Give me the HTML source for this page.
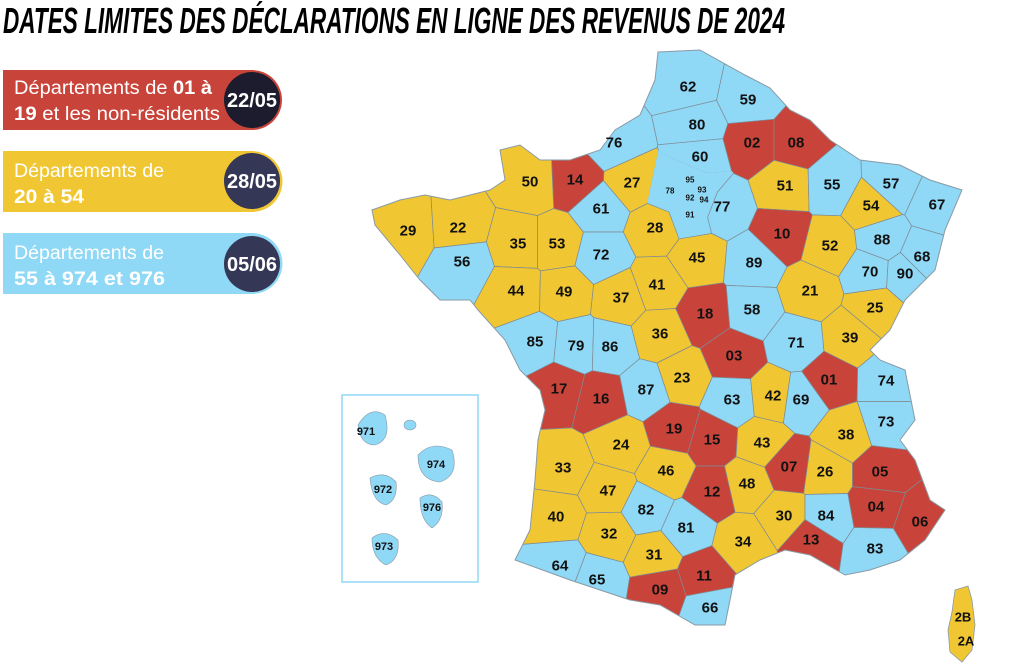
<!DOCTYPE html>
<html><head><meta charset="utf-8"><style>
html,body{margin:0;padding:0;background:#fff;width:1024px;height:666px;overflow:hidden}
svg{display:block}
.t{font-family:"Liberation Sans Narrow","Liberation Sans",sans-serif;font-weight:bold;font-size:15px;fill:#111;text-anchor:middle;dominant-baseline:central}
.p{font-family:"Liberation Sans",sans-serif;font-size:19px;fill:#fff}
.d{font-family:"Liberation Sans Narrow","Liberation Sans",sans-serif;font-weight:bold;font-size:20px;fill:#fff;text-anchor:middle;dominant-baseline:central}
</style></head><body>
<svg width="1024" height="666" viewBox="0 0 1024 666" xmlns="http://www.w3.org/2000/svg">
<text x="3" y="33" textLength="782" lengthAdjust="spacingAndGlyphs" style="font-family:'Liberation Sans Narrow','Liberation Sans',sans-serif;font-weight:bold;font-style:italic;font-size:36px;fill:#000">DATES LIMITES DES DÉCLARATIONS EN LIGNE DES REVENUS DE 2024</text>

<path d="M3 70 H252 A30 30 0 0 1 252 130 H3 Z" fill="#c8443a"/>
<circle cx="252" cy="100" r="28" fill="#1c1c2e"/>
<text class="p" x="14" y="94" textLength="198" lengthAdjust="spacingAndGlyphs">Départements de <tspan font-weight="bold">01 à</tspan></text>
<text class="p" x="14" y="120" textLength="206" lengthAdjust="spacingAndGlyphs"><tspan font-weight="bold">19</tspan> et les non-résidents</text>
<text class="d" x="252" y="101">22/05</text>

<path d="M3 151 H252 A30.5 30.5 0 0 1 252 212 H3 Z" fill="#f0c732"/>
<circle cx="252" cy="181" r="28" fill="#353756"/>
<text class="p" x="14" y="177" textLength="150" lengthAdjust="spacingAndGlyphs">Départements de</text>
<text class="p" x="14" y="203" font-weight="bold" textLength="70" lengthAdjust="spacingAndGlyphs">20 à 54</text>
<text class="d" x="252" y="182">28/05</text>

<path d="M3 233 H252 A30.5 30.5 0 0 1 252 294 H3 Z" fill="#8fd8f6"/>
<circle cx="252" cy="264" r="28" fill="#353756"/>
<text class="p" x="14" y="259" textLength="150" lengthAdjust="spacingAndGlyphs">Départements de</text>
<text class="p" x="14" y="285" font-weight="bold" textLength="151" lengthAdjust="spacingAndGlyphs">55 à 974 et 976</text>
<text class="d" x="252" y="265">05/06</text>

<defs><clipPath id="fr"><path id="frp" d="M658 52 L700 50 L745 75 L770 88 L790 110 L810 120 L830 140 L860 160 L900 165 L930 180 L962 190 L945 230 L935 270 L915 290 L905 300 L890 330 L870 350 L880 360 L905 370 L915 420 L900 440 L915 460 L930 500 L945 510 L925 540 L900 560 L870 570 L845 575 L810 555 L785 550 L760 560 L735 575 L730 600 L725 625 L695 625 L660 605 L630 600 L600 590 L570 580 L515 560 L530 530 L535 480 L538 440 L545 410 L540 390 L520 370 L505 340 L478 310 L470 300 L440 300 L420 280 L400 255 L375 225 L372 210 L400 200 L425 195 L450 200 L490 190 L505 180 L500 150 L520 145 L540 160 L570 160 L600 150 L615 130 L640 115 L655 80 Z"/></clipPath></defs>
<use href="#frp" fill="#8fd8f6"/>
<g clip-path="url(#fr)" id="g"></g>
<use href="#frp" fill="none" stroke="#8a9aa5" stroke-width="1"/>
<g id="lab"></g>

<path d="M955 590 L968 586 L972 600 L975 625 L972 650 L962 662 L950 652 L948 630 L952 612 Z" fill="#f0c732" stroke="#8a9aa5" stroke-width="0.8"/>
<text class="t" x="963" y="617" style="font-size:13px">2B</text><text class="t" x="966" y="641" style="font-size:13px">2A</text>

<rect x="342" y="395" width="136" height="187" fill="none" stroke="#8fd8f6" stroke-width="1.5"/>
<g fill="#8fd8f6" stroke="#8a9aa5" stroke-width="0.6">
<path d="M358 425 Q370 405 385 415 Q392 440 375 445 Q360 445 358 425Z"/>
<path d="M418 455 Q432 440 452 450 Q460 475 440 482 Q418 480 418 455Z"/>
<ellipse cx="410" cy="425" rx="6" ry="5"/>
<path d="M370 478 Q385 470 396 482 Q398 500 386 505 Q372 502 370 478Z"/>
<path d="M420 498 Q432 490 442 502 Q444 520 432 528 Q420 520 420 498Z"/>
<path d="M372 538 Q385 528 398 540 Q400 560 386 565 Q372 558 372 538Z"/>
</g>
<text class="t" x="366" y="432" style="font-size:11px">971</text>
<text class="t" x="436" y="465" style="font-size:11px">974</text>
<text class="t" x="383" y="490" style="font-size:11px">972</text>
<text class="t" x="432" y="508" style="font-size:11px">976</text>
<text class="t" x="384" y="547" style="font-size:11px">973</text>
</svg>
<script>
const R="#c8443a",Y="#f0c732",B="#8fd8f6";
const D=[["62",688,87,B],["59",748,100,B],["80",697,125,B],["76",614,143,B],["60",700,157,B],["02",752,143,R],["08",796,143,R],["14",575,180,R],["50",530,182,Y],["27",632,183,Y],["95",690,180,B,1],["78",670,191,B,1],["93",702,190,B,1],["92",690,198,B,1],["94",704,200,B,1],["91",690,215,B,1],["77",722,207,B],["51",785,186,Y],["55",832,185,B],["57",891,184,B],["54",871,206,Y],["67",937,205,B],["29",408,231,Y],["22",458,228,Y],["35",518,244,Y],["53",557,244,Y],["61",601,209,B],["72",601,255,B],["28",655,228,Y],["10",782,234,R],["52",830,246,Y],["88",882,240,B],["68",922,257,B],["56",462,262,B],["45",697,258,Y],["89",754,263,B],["70",870,272,B],["90",905,274,B],["44",516,291,Y],["49",564,292,Y],["37",621,298,Y],["41",657,285,Y],["21",810,291,Y],["25",875,308,Y],["18",705,314,R],["58",752,310,B],["85",535,342,B],["79",576,346,B],["86",610,347,B],["36",660,334,Y],["03",734,356,R],["71",796,343,B],["39",850,338,Y],["01",829,380,R],["74",886,381,B],["17",559,389,R],["16",601,399,R],["87",646,390,B],["23",682,378,Y],["63",732,400,B],["42",773,396,Y],["69",801,400,B],["73",886,422,B],["38",846,435,Y],["19",674,429,R],["15",712,440,R],["43",762,443,Y],["24",621,445,Y],["07",789,467,R],["26",825,472,Y],["05",880,472,R],["33",563,468,Y],["46",666,471,Y],["48",747,484,Y],["47",608,491,Y],["12",712,492,R],["04",876,507,R],["06",920,522,R],["40",556,517,Y],["82",646,510,B],["81",686,528,B],["30",784,516,Y],["84",826,516,B],["32",609,534,Y],["34",743,542,Y],["13",811,540,R],["83",875,549,B],["31",654,555,Y],["64",560,566,B],["65",597,580,B],["09",660,590,R],["11",704,576,R],["66",710,608,B]];
const ns="http://www.w3.org/2000/svg",g=document.getElementById("g"),l=document.getElementById("lab");
function clip(poly,a,b,c){
 const out=[];for(let i=0;i<poly.length;i++){const p=poly[i],q=poly[(i+1)%poly.length];
 const fp=a*p[0]+b*p[1]-c,fq=a*q[0]+b*q[1]-c;
 if(fp<=0)out.push(p);
 if((fp<0&&fq>0)||(fp>0&&fq<0)){const t=fp/(fp-fq);out.push([p[0]+t*(q[0]-p[0]),p[1]+t*(q[1]-p[1])]);}}
 return out;}
D.forEach((d,i)=>{let poly=[[300,30],[1000,30],[1000,660],[300,660]];
 D.forEach((e,j)=>{if(i===j||poly.length===0)return;
  const a=e[1]-d[1],b=e[2]-d[2],c=(e[1]*e[1]+e[2]*e[2]-d[1]*d[1]-d[2]*d[2])/2;poly=clip(poly,a,b,c);});
 if(poly.length<3)return;
 const p=document.createElementNS(ns,"path");
 p.setAttribute("d","M"+poly.map(q=>q[0].toFixed(1)+" "+q[1].toFixed(1)).join(" L")+"Z");
 p.setAttribute("fill",d[3]);p.setAttribute("stroke",d[4]?d[3]:"#7f8a92");p.setAttribute("stroke-width","0.7");g.appendChild(p);});
D.forEach(d=>{const t=document.createElementNS(ns,"text");t.setAttribute("class","t");t.setAttribute("x",d[1]);t.setAttribute("y",d[2]);if(d[4])t.setAttribute("style","font-size:8px");t.textContent=d[0];l.appendChild(t);});
</script>
</body></html>
